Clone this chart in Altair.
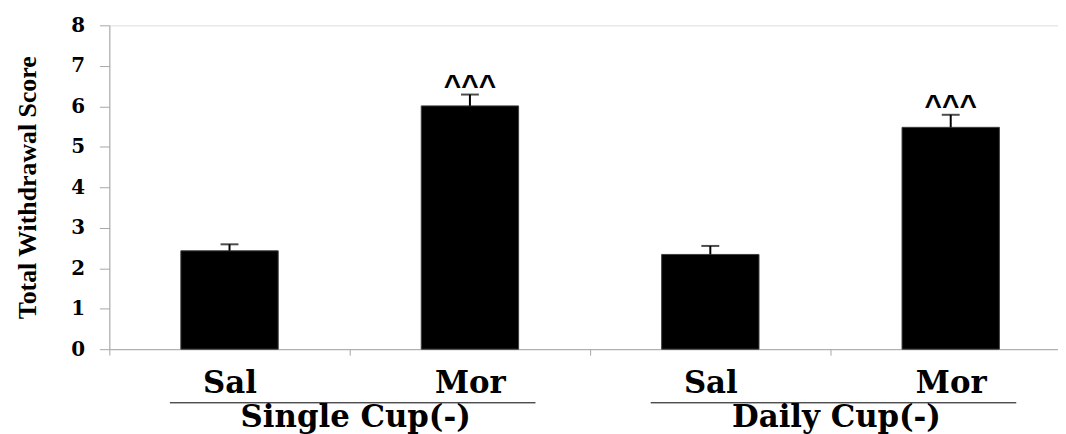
import altair as alt
import pandas as pd

# ---- data ----
groups = ["Single Cup(-)", "Single Cup(-)", "Daily Cup(-)", "Daily Cup(-)"]
treatments = ["Sal", "Mor", "Sal", "Mor"]
means = [2.43, 6.01, 2.34, 5.48]
sems = [0.16, 0.28, 0.21, 0.31]
sig_marks = ["", "^^^", "", "^^^"]
y_ticks = [0, 1, 2, 3, 4, 5, 6, 7, 8]
group_names = ["Single Cup(-)", "Daily Cup(-)"]

keys = [f"{g}|{t}" for g, t in zip(groups, treatments)]
df = pd.DataFrame({
    "key": keys, "group": groups, "treatment": treatments,
    "mean": means, "sem": sems, "sig": sig_marks,
})
df["upper"] = df["mean"] + df["sem"]

gdf = pd.DataFrame({
    "group": group_names,
    "start": [keys[0], keys[2]],
    "end": [keys[1], keys[3]],
})

AXIS_GRAY = "#a6a6a6"
xscale = alt.Scale(domain=keys, range=[0, 968], paddingInner=0, paddingOuter=0)

x_axis = alt.Axis(
    labelExpr="split(datum.value, '|')[1]",
    tickBand="extent", labelAngle=0, grid=False,
    domainColor=AXIS_GRAY, tickColor=AXIS_GRAY, tickSize=6,
    labelFont="DejaVu Serif", labelFontWeight="bold", labelColor="black",
    labelFontSize=31, labelBaseline="alphabetic", labelPadding=38,
)
x_enc = alt.X("key:N", scale=xscale, title=None, axis=x_axis)
y_enc = alt.Y(
    "mean:Q", scale=alt.Scale(domain=[0, 8], nice=False),
    axis=alt.Axis(
        values=y_ticks, title="Total Withdrawal Score", grid=False,
        titleFont="Liberation Serif", titleFontSize=26, titleFontWeight="bold",
        titleColor="black", titlePadding=30,
        labelFont="DejaVu Serif", labelFontSize=20, labelFontWeight="bold",
        labelColor="black", labelPadding=15, tickSize=10,
        domainColor=AXIS_GRAY, tickColor=AXIS_GRAY,
    ),
)

base = alt.Chart(df)
bars = base.mark_bar(color="black", stroke="#404040", strokeWidth=1,
                     width=alt.RelativeBandSize(0.405)).encode(x=x_enc, y=y_enc)
err = base.mark_rule(color="black", strokeWidth=2).encode(
    x=alt.X("key:N", title=None), y=alt.Y("mean:Q", title="Total Withdrawal Score"),
    y2="upper:Q")
cap = base.mark_tick(color="black", size=18, thickness=2, orient="horizontal").encode(
    x=alt.X("key:N", title=None), y=alt.Y("upper:Q", title="Total Withdrawal Score"))
sig = base.mark_text(font="Liberation Sans", fontSize=30, fontWeight="bold",
                     baseline="alphabetic", color="black", dy=0).encode(
    x=alt.X("key:N", title=None), y=alt.Y("upper:Q", title="Total Withdrawal Score"),
    text="sig:N")

gbase = alt.Chart(gdf)
grule = gbase.mark_rule(color="black", strokeWidth=1, xOffset=-60, x2Offset=66).encode(
    x=alt.X("start:N", title=None), x2="end:N", y=alt.value(380))
gtext = gbase.mark_text(font="DejaVu Serif", fontWeight="bold", fontSize=31,
                        baseline="alphabetic", color="black", dx=6).encode(
    x=alt.X("start:N", bandPosition=1, title=None),
    y=alt.value(404), text="group:N")

chart = alt.layer(bars, err, cap, sig, grule, gtext).properties(
    width=955, height=326,
    autosize=alt.AutoSizeParams(type="none"),
    padding={"left": 102, "top": 16, "right": 0, "bottom": 90},
).configure_view(stroke=None).configure(background="white")

chart.save("out.html", embed_options={"renderer": "svg", "actions": False})
